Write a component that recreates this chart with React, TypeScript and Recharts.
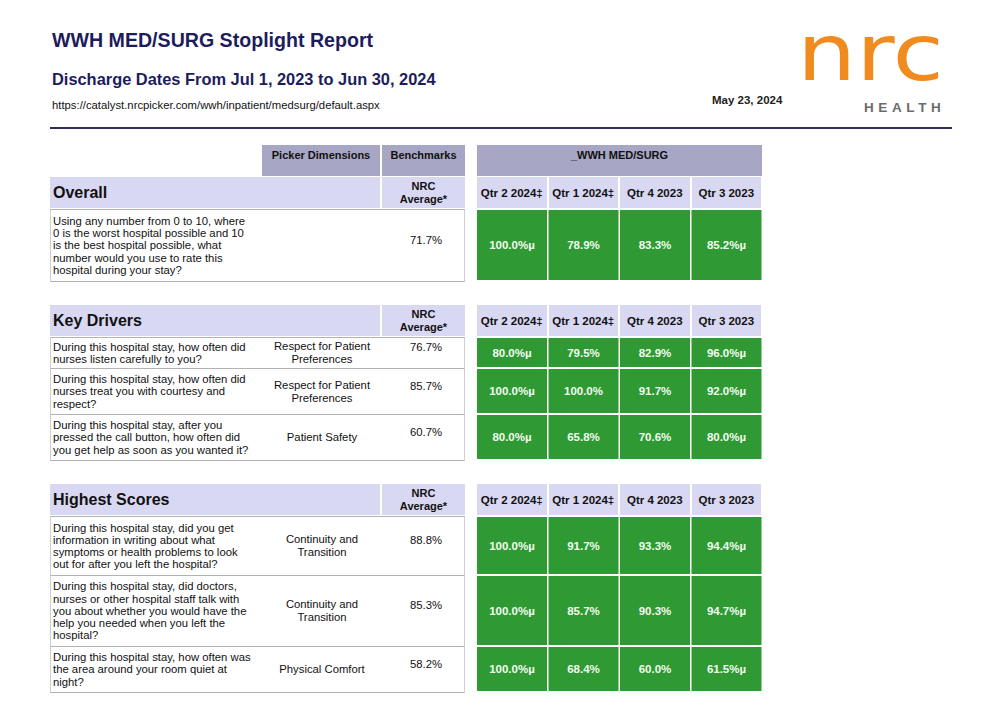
import { BarChart, Bar, XAxis, YAxis } from "recharts";

const FONT = '"Liberation Sans", Arial, Helvetica, sans-serif';
const NAVY = "#1d1d5c";
const GRAY_HEAD = "#a7a6c5";
const LAVENDER = "#d9d8f2";
const GREEN = "#2f9934";
const ROW_LINE = "#b3b3b3";

// report header text
const REPORT_TITLE = "WWH MED/SURG Stoplight Report";
const REPORT_SUBTITLE = "Discharge Dates From Jul 1, 2023 to Jun 30, 2024";
const REPORT_URL = "https://catalyst.nrcpicker.com/wwh/inpatient/medsurg/default.aspx";
const REPORT_DATE = "May 23, 2024";
const UNIT_NAME = "_WWH MED/SURG";

// column headers
const QUARTERS = ["Qtr 2 2024\u2021", "Qtr 1 2024\u2021", "Qtr 4 2023", "Qtr 3 2023"];

// Overall
const OVERALL_QUESTIONS = [
  "Using any number from 0 to 10, where\n0 is the worst hospital possible and 10\nis the best hospital possible, what\nnumber would you use to rate this\nhospital during your stay?",
];
const OVERALL_DIMENSIONS = [""];
const OVERALL_BENCHMARKS = [71.7];
const OVERALL_SCORES = [[100.0, 78.9, 83.3, 85.2]];
const OVERALL_FLAGS = [[true, false, false, true]];

// Key Drivers
const DRIVER_QUESTIONS = [
  "During this hospital stay, how often did\nnurses listen carefully to you?",
  "During this hospital stay, how often did\nnurses treat you with courtesy and\nrespect?",
  "During this hospital stay, after you\npressed the call button, how often did\nyou get help as soon as you wanted it?",
];
const DRIVER_DIMENSIONS = ["Respect for Patient\nPreferences", "Respect for Patient\nPreferences", "Patient Safety"];
const DRIVER_BENCHMARKS = [76.7, 85.7, 60.7];
const DRIVER_SCORES = [
  [80.0, 79.5, 82.9, 96.0],
  [100.0, 100.0, 91.7, 92.0],
  [80.0, 65.8, 70.6, 80.0],
];
const DRIVER_FLAGS = [
  [true, false, false, true],
  [true, false, false, true],
  [true, false, false, true],
];

// Highest Scores
const HIGHEST_QUESTIONS = [
  "During this hospital stay, did you get\ninformation in writing about what\nsymptoms or health problems to look\nout for after you left the hospital?",
  "During this hospital stay, did doctors,\nnurses or other hospital staff talk with\nyou about whether you would have the\nhelp you needed when you left the\nhospital?",
  "During this hospital stay, how often was\nthe area around your room quiet at\nnight?",
];
const HIGHEST_DIMENSIONS = ["Continuity and\nTransition", "Continuity and\nTransition", "Physical Comfort"];
const HIGHEST_BENCHMARKS = [88.8, 85.3, 58.2];
const HIGHEST_SCORES = [
  [100.0, 91.7, 93.3, 94.4],
  [100.0, 85.7, 90.3, 94.7],
  [100.0, 68.4, 60.0, 61.5],
];
const HIGHEST_FLAGS = [
  [true, false, false, true],
  [true, false, false, true],
  [true, false, false, true],
];

const SECTIONS = [
  { title: "Overall", questions: OVERALL_QUESTIONS, dimensions: OVERALL_DIMENSIONS, benchmarks: OVERALL_BENCHMARKS, scores: OVERALL_SCORES, flags: OVERALL_FLAGS },
  { title: "Key Drivers", questions: DRIVER_QUESTIONS, dimensions: DRIVER_DIMENSIONS, benchmarks: DRIVER_BENCHMARKS, scores: DRIVER_SCORES, flags: DRIVER_FLAGS },
  { title: "Highest Scores", questions: HIGHEST_QUESTIONS, dimensions: HIGHEST_DIMENSIONS, benchmarks: HIGHEST_BENCHMARKS, scores: HIGHEST_SCORES, flags: HIGHEST_FLAGS },
];

// page layout (px)
const SECTION_TOPS = [177, 305, 484];
const SECTION_ROW_HEIGHTS = [[72], [31, 46, 46], [59, 71, 46]];
const HEAD_H = 31;
const LEFT_X = 50;
const DIM_X = 262;
const BENCH_X = 382;
const LEFT_END = 465;
const GRID_X = 476;
const GRID_W = 286;

function ScoreCell(props: any) {
  const { background, x, y, width, height, value, payload } = props;
  const fullH = value > 0 ? (height * 100) / value : height;
  const box = background ?? { x, y: y + height - fullH, width, height: fullH };
  const label = `${Number(value).toFixed(1)}%${payload.flag ? "\u00b5" : ""}`;
  return (
    <g>
      <rect x={box.x + 1} y={box.y + 1} width={box.width - 2} height={box.height - 2} fill={GREEN} />
      <text
        x={box.x + box.width / 2}
        y={box.y + box.height / 2}
        dy="0.36em"
        textAnchor="middle"
        fill="#f2fbef"
        fontSize={11.5}
        fontWeight={700}
        fontFamily={FONT}
      >
        {label}
      </text>
    </g>
  );
}

function ScoreRow({ scores, flags, height }: { scores: number[]; flags: boolean[]; height: number }) {
  const data = QUARTERS.map((q, i) => ({ quarter: q, score: scores[i], flag: flags[i] }));
  return (
    <BarChart width={GRID_W} height={height} data={data} margin={{ top: 0, right: 0, bottom: 0, left: 0 }} barCategoryGap={0}>
      <XAxis dataKey="quarter" hide />
      <YAxis hide domain={[0, 100]} />
      <Bar dataKey="score" isAnimationActive={false} shape={ScoreCell} />
    </BarChart>
  );
}

function ReportHeader() {
  return (
    <svg width={1000} height={135} style={{ position: "absolute", left: 0, top: 0 }}>
      <text x={52} y={47} fontFamily={FONT} fontSize={19.6} fontWeight={700} fill={NAVY}>{REPORT_TITLE}</text>
      <text x={52} y={85} fontFamily={FONT} fontSize={16.4} fontWeight={700} fill={NAVY}>{REPORT_SUBTITLE}</text>
      <text x={52} y={109} fontFamily={FONT} fontSize={11.3} fill="#111">{REPORT_URL}</text>
      <text x={712} y={104} fontFamily={FONT} fontSize={11.5} fontWeight={700} fill="#222">{REPORT_DATE}</text>
      <text x={797} y={80} fontFamily='"DejaVu Sans", sans-serif' fontSize={78} fill="#f08b1f" textLength={147} lengthAdjust="spacingAndGlyphs">nrc</text>
      <text x={864} y={112} fontFamily={FONT} fontSize={13.5} fontWeight={700} fill="#6b6b6b" letterSpacing={4.6}>HEALTH</text>
      <rect x={50} y={127} width={902} height={2} fill="#2c2c5e" />
    </svg>
  );
}

const colW = GRID_W / QUARTERS.length;

function Section({ section, top, rowHeights }: { section: typeof SECTIONS[number]; top: number; rowHeights: number[] }) {
  let y = top + HEAD_H + 1;
  return (
    <>
      <div style={{ position: "absolute", left: LEFT_X, top, width: BENCH_X - 2 - LEFT_X, height: HEAD_H, background: LAVENDER, display: "flex", alignItems: "center", paddingLeft: 3, boxSizing: "border-box", fontSize: 16, fontWeight: 700 }}>
        {section.title}
      </div>
      <div style={{ position: "absolute", left: BENCH_X, top, width: LEFT_END - BENCH_X, height: HEAD_H, background: LAVENDER, display: "flex", alignItems: "center", justifyContent: "center", textAlign: "center", fontSize: 11, fontWeight: 700, lineHeight: "13px" }}>
        NRC<br />Average*
      </div>
      {QUARTERS.map((q, i) => (
        <div key={q} style={{ position: "absolute", left: GRID_X + i * colW + 1, top, width: colW - 2, height: HEAD_H, background: LAVENDER, display: "flex", alignItems: "center", justifyContent: "center", fontSize: 11.5, fontWeight: 700, whiteSpace: "nowrap" }}>
          {q}
        </div>
      ))}
      {rowHeights.map((h, i) => {
        const rowTop = y;
        y += h;
        return (
          <div key={i}>
            <div style={{ position: "absolute", left: LEFT_X, top: rowTop, width: LEFT_END - LEFT_X, height: h + 1, boxSizing: "border-box", border: `1px solid ${ROW_LINE}`, borderLeftColor: "#cfcfcf", borderRightColor: "#cfcfcf" }}>
              <div style={{ position: "absolute", left: 2, top: 0, width: DIM_X - LEFT_X - 2, height: h - 1, display: "flex", alignItems: "center", whiteSpace: "pre-line", fontSize: 11.3, lineHeight: "12.2px" }}>
                {section.questions[i]}
              </div>
              <div style={{ position: "absolute", left: DIM_X - LEFT_X, top: 0, width: BENCH_X - 2 - DIM_X, height: h - 1, display: "flex", alignItems: "center", justifyContent: "center", textAlign: "center", whiteSpace: "pre-line", fontSize: 11.3, lineHeight: "12.6px" }}>
                {section.dimensions[i]}
              </div>
              <div style={{ position: "absolute", left: BENCH_X - LEFT_X, top: 0, width: LEFT_END - BENCH_X, height: h - 1, display: "flex", alignItems: "center", justifyContent: "center", paddingLeft: 3, paddingBottom: 12, boxSizing: "border-box", fontSize: 11.3 }}>
                {`${section.benchmarks[i].toFixed(1)}%`}
              </div>
            </div>
            <div style={{ position: "absolute", left: GRID_X, top: rowTop }}>
              <ScoreRow scores={section.scores[i]} flags={section.flags[i]} height={h} />
            </div>
          </div>
        );
      })}
    </>
  );
}

export default function App() {
  const grayTop = SECTION_TOPS[0] - HEAD_H - 1;
  return (
    <div style={{ position: "absolute", left: 0, top: 0, width: 1000, height: 703, background: "#fff", overflow: "hidden", fontFamily: FONT, color: "#111" }}>
      <ReportHeader />
      <div style={{ position: "absolute", left: DIM_X, top: grayTop, width: BENCH_X - 2 - DIM_X, height: HEAD_H, background: GRAY_HEAD, textAlign: "center", paddingTop: 4, boxSizing: "border-box", fontSize: 11, fontWeight: 700 }}>
        Picker Dimensions
      </div>
      <div style={{ position: "absolute", left: BENCH_X, top: grayTop, width: LEFT_END - BENCH_X, height: HEAD_H, background: GRAY_HEAD, textAlign: "center", paddingTop: 4, boxSizing: "border-box", fontSize: 11, fontWeight: 700 }}>
        Benchmarks
      </div>
      <div style={{ position: "absolute", left: GRID_X + 1, top: grayTop, width: GRID_W - 1, height: HEAD_H, background: GRAY_HEAD, textAlign: "center", paddingTop: 4, boxSizing: "border-box", fontSize: 11, fontWeight: 700 }}>
        {UNIT_NAME}
      </div>
      {SECTIONS.map((s, i) => (
        <Section key={s.title} section={s} top={SECTION_TOPS[i]} rowHeights={SECTION_ROW_HEIGHTS[i]} />
      ))}
    </div>
  );
}
